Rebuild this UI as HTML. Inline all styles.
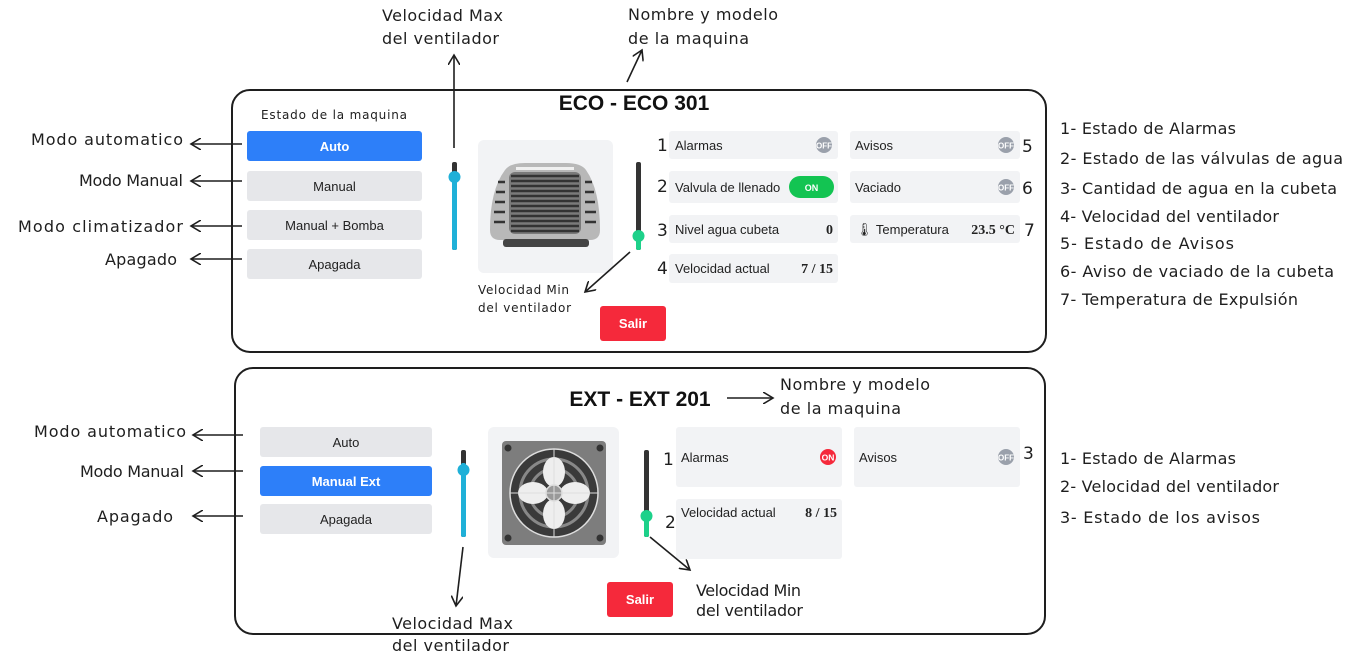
<!DOCTYPE html>
<html><head><meta charset="utf-8"><style>
html,body{margin:0;padding:0;background:#fff;}
svg{display:block;}
.h{font-family:"DejaVu Sans","Liberation Sans",sans-serif;font-size:16px;fill:#1e1e1e;}
.s{font-family:"DejaVu Sans","Liberation Sans",sans-serif;font-size:12px;fill:#1e1e1e;}
.u{font-family:"Liberation Sans",sans-serif;font-size:13px;fill:#222;}
.b{font-family:"Liberation Sans",sans-serif;font-weight:bold;}
.v{font-family:"Liberation Serif",serif;font-weight:bold;font-size:14px;fill:#222;}
.n{font-family:"DejaVu Sans",sans-serif;font-size:17px;fill:#1e1e1e;}
</style></head><body>
<svg width="1356" height="667" viewBox="0 0 1356 667" xmlns="http://www.w3.org/2000/svg">
<defs>
<marker id="a" markerWidth="12" markerHeight="12" refX="10" refY="6" orient="auto" markerUnits="userSpaceOnUse">
<path d="M0,0 L10,6 L0,12" fill="none" stroke="#1e1e1e" stroke-width="1.6"/></marker>
</defs>
<rect x="232" y="90" width="814" height="262" rx="18" fill="none" stroke="#1e1e1e" stroke-width="2"/>
<rect x="235" y="368" width="810" height="266" rx="18" fill="none" stroke="#1e1e1e" stroke-width="2"/>

<!-- TOP -->
<text x="634" y="110" text-anchor="middle" class="b" font-size="21" fill="#111">ECO - ECO 301</text>
<text x="261" y="119" class="s" textLength="146">Estado de la maquina</text>
<rect x="247" y="131" width="175" height="30" rx="3" fill="#2d7ff9"/>
<text x="334.5" y="151" text-anchor="middle" class="b" font-size="13" fill="#fff">Auto</text>
<rect x="247" y="171" width="175" height="30" rx="3" fill="#e6e7ea"/>
<text x="334.5" y="191" text-anchor="middle" class="u">Manual</text>
<rect x="247" y="210" width="175" height="30" rx="3" fill="#e6e7ea"/>
<text x="334.5" y="230" text-anchor="middle" class="u">Manual + Bomba</text>
<rect x="247" y="249" width="175" height="30" rx="3" fill="#e6e7ea"/>
<text x="334.5" y="269" text-anchor="middle" class="u">Apagada</text>

<rect x="452" y="162" width="5" height="88" rx="2" fill="#333"/>
<rect x="452" y="176" width="5" height="74" rx="2" fill="#1fb0d8"/>
<circle cx="454.5" cy="177" r="6" fill="#1fb0d8"/>
<rect x="478" y="140" width="135" height="133" rx="6" fill="#f2f3f5"/>
<g>
<path d="M505,170 Q510,163 525,163 L566,163 Q581,163 586,170 Q600,190 600,230 Q600,240 590,240 L500,240 Q490,240 490,230 Q490,190 505,170 Z" fill="#b8b8b8"/>
<rect x="516" y="167" width="58" height="3" fill="#f0f0f0"/>
<rect x="509" y="172" width="72" height="62" rx="6" fill="#7a7a7a"/>
<g stroke="#333" stroke-width="2.5">
<line x1="511" y1="176" x2="579" y2="176"/><line x1="511" y1="181" x2="579" y2="181"/><line x1="511" y1="186" x2="579" y2="186"/><line x1="511" y1="191" x2="579" y2="191"/><line x1="511" y1="196" x2="579" y2="196"/><line x1="511" y1="201" x2="579" y2="201"/><line x1="511" y1="206" x2="579" y2="206"/><line x1="511" y1="211" x2="579" y2="211"/><line x1="511" y1="216" x2="579" y2="216"/><line x1="511" y1="221" x2="579" y2="221"/><line x1="511" y1="226" x2="579" y2="226"/><line x1="511" y1="231" x2="579" y2="231"/>
<line x1="498" y1="182" x2="505" y2="182"/><line x1="496" y1="192" x2="505" y2="192"/><line x1="495" y1="202" x2="505" y2="202"/><line x1="494" y1="212" x2="505" y2="212"/><line x1="494" y1="222" x2="505" y2="222"/>
<line x1="585" y1="182" x2="592" y2="182"/><line x1="585" y1="192" x2="594" y2="192"/><line x1="585" y1="202" x2="595" y2="202"/><line x1="585" y1="212" x2="596" y2="212"/><line x1="585" y1="222" x2="596" y2="222"/>
</g>
<rect x="503" y="239" width="86" height="8" rx="3" fill="#444"/>
</g>
<rect x="636" y="162" width="5" height="88" rx="2" fill="#333"/>
<rect x="636" y="236" width="5" height="14" rx="2" fill="#1dd18a"/>
<circle cx="638.5" cy="236" r="6" fill="#1dd18a"/>

<g fill="#f2f3f5">
<rect x="669" y="131" width="169" height="28" rx="3"/>
<rect x="669" y="171" width="169" height="32" rx="3"/>
<rect x="669" y="215" width="169" height="28" rx="3"/>
<rect x="669" y="254" width="169" height="29" rx="3"/>
<rect x="850" y="131" width="170" height="28" rx="3"/>
<rect x="850" y="171" width="170" height="32" rx="3"/>
<rect x="850" y="215" width="170" height="28" rx="3"/>
</g>
<text x="675" y="150" class="u">Alarmas</text>
<circle cx="824" cy="145" r="8" fill="#9aa0ab"/><text x="824" y="148.5" text-anchor="middle" class="b" font-size="8" fill="#fff">OFF</text>
<text x="675" y="192" class="u">Valvula de llenado</text>
<rect x="789" y="176" width="45" height="22" rx="11" fill="#13c452"/><text x="811.5" y="191" text-anchor="middle" class="b" font-size="9" fill="#fff">ON</text>
<text x="675" y="234" class="u">Nivel agua cubeta</text>
<text x="833" y="234" text-anchor="end" class="v">0</text>
<text x="675" y="273" class="u">Velocidad actual</text>
<text x="833" y="273" text-anchor="end" class="v">7 / 15</text>
<text x="855" y="150" class="u">Avisos</text>
<circle cx="1006" cy="145" r="8" fill="#9aa0ab"/><text x="1006" y="148.5" text-anchor="middle" class="b" font-size="8" fill="#fff">OFF</text>
<text x="855" y="192" class="u">Vaciado</text>
<circle cx="1006" cy="187" r="8" fill="#9aa0ab"/><text x="1006" y="190.5" text-anchor="middle" class="b" font-size="8" fill="#fff">OFF</text>
<text x="856" y="234" class="u">🌡 Temperatura</text>
<text x="1015" y="234" text-anchor="end" class="v">23.5 °C</text>
<text x="657" y="151" class="n">1</text><text x="657" y="192" class="n">2</text><text x="657" y="236" class="n">3</text><text x="657" y="274" class="n">4</text>
<text x="1022" y="152" class="n">5</text><text x="1022" y="194" class="n">6</text><text x="1024" y="236" class="n">7</text>
<rect x="600" y="306" width="66" height="35" rx="3" fill="#f5293b"/>
<text x="633" y="328" text-anchor="middle" class="b" font-size="13" fill="#fff">Salir</text>

<text x="382" y="21" class="h" textLength="121">Velocidad Max</text>
<text x="382" y="44" class="h" textLength="117">del ventilador</text>
<line x1="454" y1="148" x2="454" y2="55" stroke="#1e1e1e" stroke-width="1.6" marker-end="url(#a)"/>
<text x="628" y="20" class="h" textLength="150">Nombre y modelo</text>
<text x="628" y="44" class="h" textLength="121">de la maquina</text>
<line x1="627" y1="82" x2="642" y2="50" stroke="#1e1e1e" stroke-width="1.6" marker-end="url(#a)"/>
<text x="478" y="294" class="s" textLength="91">Velocidad Min</text>
<text x="478" y="312" class="s" textLength="93">del ventilador</text>
<line x1="630" y1="252" x2="585" y2="292" stroke="#1e1e1e" stroke-width="1.6" marker-end="url(#a)"/>
<g stroke="#1e1e1e" stroke-width="1.6">
<line x1="242" y1="144" x2="191" y2="144" marker-end="url(#a)"/>
<line x1="242" y1="181" x2="191" y2="181" marker-end="url(#a)"/>
<line x1="242" y1="226" x2="191" y2="226" marker-end="url(#a)"/>
<line x1="242" y1="259" x2="191" y2="259" marker-end="url(#a)"/>
</g>
<text x="183" y="145" text-anchor="end" class="h" textLength="152">Modo automatico</text>
<text x="183" y="186" text-anchor="end" class="h" textLength="104">Modo Manual</text>
<text x="183" y="232" text-anchor="end" class="h" textLength="165">Modo climatizador</text>
<text x="177" y="265" text-anchor="end" class="h" textLength="72">Apagado</text>
<g class="h">
<text x="1060" y="134" textLength="176">1- Estado de Alarmas</text>
<text x="1060" y="164" textLength="283">2- Estado de las válvulas de agua</text>
<text x="1060" y="194" textLength="277">3- Cantidad de agua en la cubeta</text>
<text x="1060" y="222" textLength="219">4- Velocidad del ventilador</text>
<text x="1060" y="249" textLength="174">5- Estado de Avisos</text>
<text x="1060" y="277" textLength="274">6- Aviso de vaciado de la cubeta</text>
<text x="1060" y="305" textLength="238">7- Temperatura de Expulsión</text>
</g>

<!-- BOTTOM -->
<text x="640" y="406" text-anchor="middle" class="b" font-size="21" fill="#111">EXT - EXT 201</text>
<line x1="727" y1="398" x2="773" y2="398" stroke="#1e1e1e" stroke-width="1.6" marker-end="url(#a)"/>
<text x="780" y="390" class="h" textLength="150">Nombre y modelo</text>
<text x="780" y="414" class="h" textLength="121">de la maquina</text>
<rect x="260" y="427" width="172" height="30" rx="3" fill="#e6e7ea"/>
<text x="346" y="447" text-anchor="middle" class="u">Auto</text>
<rect x="260" y="466" width="172" height="30" rx="3" fill="#2d7ff9"/>
<text x="346" y="486" text-anchor="middle" class="b" font-size="13" fill="#fff">Manual Ext</text>
<rect x="260" y="504" width="172" height="30" rx="3" fill="#e6e7ea"/>
<text x="346" y="524" text-anchor="middle" class="u">Apagada</text>
<g stroke="#1e1e1e" stroke-width="1.6">
<line x1="243" y1="435" x2="193" y2="435" marker-end="url(#a)"/>
<line x1="243" y1="471" x2="193" y2="471" marker-end="url(#a)"/>
<line x1="243" y1="516" x2="193" y2="516" marker-end="url(#a)"/>
</g>
<text x="186" y="437" text-anchor="end" class="h" textLength="152">Modo automatico</text>
<text x="184" y="477" text-anchor="end" class="h" textLength="104">Modo Manual</text>
<text x="173" y="522" text-anchor="end" class="h" textLength="76">Apagado</text>

<rect x="461" y="450" width="5" height="87" rx="2" fill="#333"/>
<rect x="461" y="463" width="5" height="74" rx="2" fill="#1fb0d8"/>
<circle cx="463.5" cy="470" r="6" fill="#1fb0d8"/>
<rect x="488" y="427" width="131" height="131" rx="6" fill="#f2f3f5"/>
<rect x="502" y="441" width="104" height="104" rx="4" fill="#7d7d7d"/>
<circle cx="508" cy="448" r="3.5" fill="#333"/><circle cx="600" cy="448" r="3.5" fill="#333"/><circle cx="508" cy="538" r="3.5" fill="#333"/><circle cx="600" cy="538" r="3.5" fill="#333"/>
<circle cx="554" cy="493" r="44" fill="#3a3a3a" stroke="#ddd" stroke-width="1.5"/>
<circle cx="554" cy="493" r="34" fill="none" stroke="#888" stroke-width="3"/>
<circle cx="554" cy="493" r="24" fill="none" stroke="#888" stroke-width="3"/>
<g fill="#eee">
<ellipse cx="554" cy="472" rx="11" ry="15"/><ellipse cx="554" cy="514" rx="11" ry="15"/>
<ellipse cx="533" cy="493" rx="15" ry="11"/><ellipse cx="575" cy="493" rx="15" ry="11"/>
</g>
<circle cx="554" cy="493" r="8" fill="#999" stroke="#ddd" stroke-width="1.5"/>
<line x1="510" y1="493" x2="598" y2="493" stroke="#ddd" stroke-width="1"/><line x1="554" y1="449" x2="554" y2="537" stroke="#ddd" stroke-width="1"/>

<rect x="644" y="450" width="5" height="87" rx="2" fill="#333"/>
<rect x="644" y="516" width="5" height="21" rx="2" fill="#1dd18a"/>
<circle cx="646.5" cy="516" r="6" fill="#1dd18a"/>

<rect x="676" y="427" width="166" height="60" rx="3" fill="#f2f3f5"/>
<rect x="676" y="499" width="166" height="60" rx="3" fill="#f2f3f5"/>
<rect x="854" y="427" width="166" height="60" rx="3" fill="#f2f3f5"/>
<text x="681" y="462" class="u">Alarmas</text>
<circle cx="828" cy="457" r="8" fill="#f5293b"/><text x="828" y="460.5" text-anchor="middle" class="b" font-size="8.5" fill="#fff">ON</text>
<text x="681" y="517" class="u">Velocidad actual</text>
<text x="837" y="517" text-anchor="end" class="v">8 / 15</text>
<text x="859" y="462" class="u">Avisos</text>
<circle cx="1006" cy="457" r="8" fill="#9aa0ab"/><text x="1006" y="460.5" text-anchor="middle" class="b" font-size="8" fill="#fff">OFF</text>
<text x="663" y="465" class="n">1</text><text x="665" y="528" class="n">2</text><text x="1023" y="459" class="n">3</text>
<rect x="607" y="582" width="66" height="35" rx="3" fill="#f5293b"/>
<text x="640" y="604" text-anchor="middle" class="b" font-size="13" fill="#fff">Salir</text>

<line x1="463" y1="547" x2="456" y2="606" stroke="#1e1e1e" stroke-width="1.6" marker-end="url(#a)"/>
<text x="392" y="629" class="h" textLength="121">Velocidad Max</text>
<text x="392" y="651" class="h" textLength="117">del ventilador</text>
<line x1="650" y1="537" x2="690" y2="570" stroke="#1e1e1e" stroke-width="1.6" marker-end="url(#a)"/>
<text x="696" y="596" class="h" textLength="105">Velocidad Min</text>
<text x="696" y="616" class="h" textLength="107">del ventilador</text>
<g class="h">
<text x="1060" y="464" textLength="176">1- Estado de Alarmas</text>
<text x="1060" y="492" textLength="219">2- Velocidad del ventilador</text>
<text x="1060" y="523" textLength="200">3- Estado de los avisos</text>
</g>
</svg>
</body></html>
